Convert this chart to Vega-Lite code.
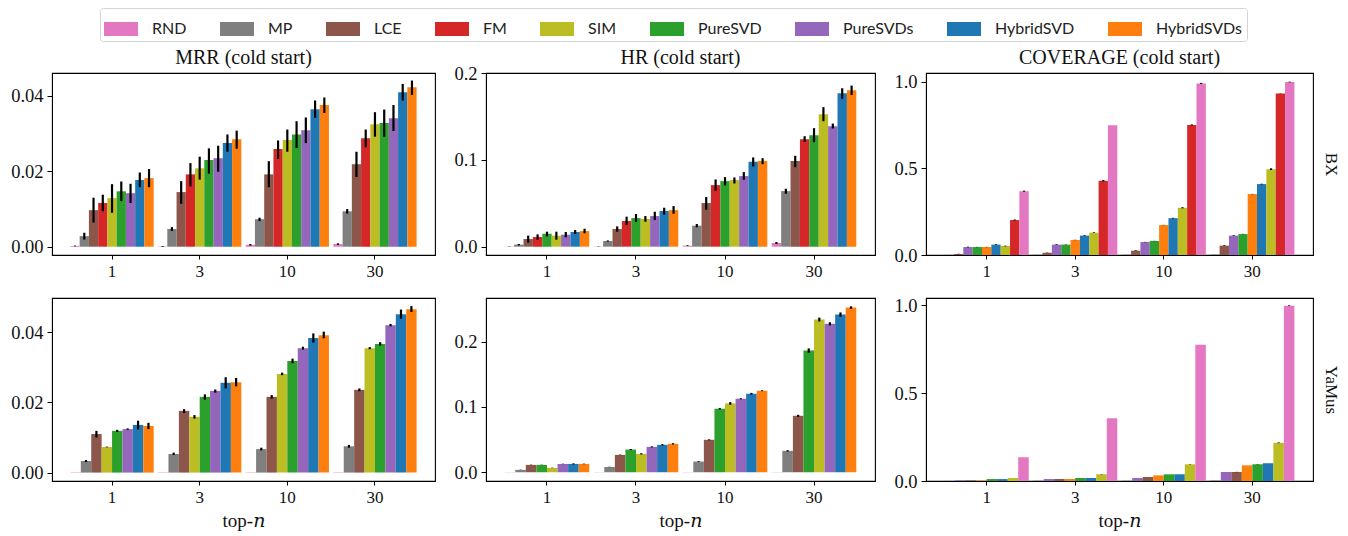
{
  "$schema": "https://vega.github.io/schema/vega-lite/v6.json",
  "padding": {"left": 10, "top": 7, "right": 5, "bottom": 5},
  "background": "white",
  "datasets": {
    "mrr_bx": [
      {"n": 1, "m": "RND", "v": 0.0002, "lo": 0.0001, "hi": 0.0003},
      {"n": 1, "m": "MP", "v": 0.0028, "lo": 0.0019, "hi": 0.0037},
      {"n": 1, "m": "LCE", "v": 0.0097, "lo": 0.0064, "hi": 0.0130},
      {"n": 1, "m": "FM", "v": 0.0116, "lo": 0.0094, "hi": 0.0138},
      {"n": 1, "m": "SIM", "v": 0.0129, "lo": 0.0090, "hi": 0.0166},
      {"n": 1, "m": "PureSVD", "v": 0.0147, "lo": 0.0121, "hi": 0.0173},
      {"n": 1, "m": "PureSVDs", "v": 0.0142, "lo": 0.0116, "hi": 0.0167},
      {"n": 1, "m": "HybridSVD", "v": 0.0177, "lo": 0.0158, "hi": 0.0197},
      {"n": 1, "m": "HybridSVDs", "v": 0.0182, "lo": 0.0158, "hi": 0.0206},
      {"n": 3, "m": "RND", "v": 0.0001, "lo": 0.0000, "hi": 0.0002},
      {"n": 3, "m": "MP", "v": 0.0047, "lo": 0.0042, "hi": 0.0052},
      {"n": 3, "m": "LCE", "v": 0.0145, "lo": 0.0114, "hi": 0.0174},
      {"n": 3, "m": "FM", "v": 0.0192, "lo": 0.0160, "hi": 0.0222},
      {"n": 3, "m": "SIM", "v": 0.0208, "lo": 0.0178, "hi": 0.0239},
      {"n": 3, "m": "PureSVD", "v": 0.0230, "lo": 0.0194, "hi": 0.0261},
      {"n": 3, "m": "PureSVDs", "v": 0.0235, "lo": 0.0199, "hi": 0.0268},
      {"n": 3, "m": "HybridSVD", "v": 0.0275, "lo": 0.0252, "hi": 0.0298},
      {"n": 3, "m": "HybridSVDs", "v": 0.0285, "lo": 0.0260, "hi": 0.0308},
      {"n": 10, "m": "RND", "v": 0.0005, "lo": 0.0003, "hi": 0.0007},
      {"n": 10, "m": "MP", "v": 0.0073, "lo": 0.0068, "hi": 0.0077},
      {"n": 10, "m": "LCE", "v": 0.0192, "lo": 0.0158, "hi": 0.0227},
      {"n": 10, "m": "FM", "v": 0.0259, "lo": 0.0233, "hi": 0.0282},
      {"n": 10, "m": "SIM", "v": 0.0283, "lo": 0.0252, "hi": 0.0311},
      {"n": 10, "m": "PureSVD", "v": 0.0298, "lo": 0.0262, "hi": 0.0333},
      {"n": 10, "m": "PureSVDs", "v": 0.0309, "lo": 0.0275, "hi": 0.0343},
      {"n": 10, "m": "HybridSVD", "v": 0.0365, "lo": 0.0342, "hi": 0.0388},
      {"n": 10, "m": "HybridSVDs", "v": 0.0376, "lo": 0.0355, "hi": 0.0396},
      {"n": 30, "m": "RND", "v": 0.0007, "lo": 0.0005, "hi": 0.0009},
      {"n": 30, "m": "MP", "v": 0.0094, "lo": 0.0088, "hi": 0.0100},
      {"n": 30, "m": "LCE", "v": 0.0219, "lo": 0.0185, "hi": 0.0252},
      {"n": 30, "m": "FM", "v": 0.0288, "lo": 0.0264, "hi": 0.0311},
      {"n": 30, "m": "SIM", "v": 0.0325, "lo": 0.0292, "hi": 0.0357},
      {"n": 30, "m": "PureSVD", "v": 0.0328, "lo": 0.0292, "hi": 0.0364},
      {"n": 30, "m": "PureSVDs", "v": 0.0341, "lo": 0.0307, "hi": 0.0376},
      {"n": 30, "m": "HybridSVD", "v": 0.0410, "lo": 0.0388, "hi": 0.0432},
      {"n": 30, "m": "HybridSVDs", "v": 0.0423, "lo": 0.0403, "hi": 0.0441}
    ],
    "hr_bx": [
      {"n": 1, "m": "RND", "v": 0.0003, "lo": 0.0001, "hi": 0.0005},
      {"n": 1, "m": "MP", "v": 0.0023, "lo": 0.0015, "hi": 0.0031},
      {"n": 1, "m": "LCE", "v": 0.0088, "lo": 0.0046, "hi": 0.0127},
      {"n": 1, "m": "FM", "v": 0.0111, "lo": 0.0081, "hi": 0.0142},
      {"n": 1, "m": "PureSVD", "v": 0.0150, "lo": 0.0119, "hi": 0.0173},
      {"n": 1, "m": "SIM", "v": 0.0127, "lo": 0.0081, "hi": 0.0173},
      {"n": 1, "m": "PureSVDs", "v": 0.0138, "lo": 0.0108, "hi": 0.0169},
      {"n": 1, "m": "HybridSVD", "v": 0.0169, "lo": 0.0146, "hi": 0.0192},
      {"n": 1, "m": "HybridSVDs", "v": 0.0180, "lo": 0.0154, "hi": 0.0207},
      {"n": 3, "m": "RND", "v": 0.0003, "lo": 0.0001, "hi": 0.0005},
      {"n": 3, "m": "MP", "v": 0.0065, "lo": 0.0058, "hi": 0.0072},
      {"n": 3, "m": "LCE", "v": 0.0203, "lo": 0.0173, "hi": 0.0234},
      {"n": 3, "m": "FM", "v": 0.0296, "lo": 0.0250, "hi": 0.0346},
      {"n": 3, "m": "PureSVD", "v": 0.0330, "lo": 0.0284, "hi": 0.0376},
      {"n": 3, "m": "SIM", "v": 0.0319, "lo": 0.0288, "hi": 0.0353},
      {"n": 3, "m": "PureSVDs", "v": 0.0353, "lo": 0.0307, "hi": 0.0403},
      {"n": 3, "m": "HybridSVD", "v": 0.0411, "lo": 0.0369, "hi": 0.0449},
      {"n": 3, "m": "HybridSVDs", "v": 0.0422, "lo": 0.0380, "hi": 0.0468},
      {"n": 10, "m": "RND", "v": 0.0012, "lo": 0.0008, "hi": 0.0016},
      {"n": 10, "m": "MP", "v": 0.0242, "lo": 0.0223, "hi": 0.0261},
      {"n": 10, "m": "LCE", "v": 0.0503, "lo": 0.0426, "hi": 0.0572},
      {"n": 10, "m": "FM", "v": 0.0710, "lo": 0.0645, "hi": 0.0775},
      {"n": 10, "m": "PureSVD", "v": 0.0756, "lo": 0.0706, "hi": 0.0802},
      {"n": 10, "m": "SIM", "v": 0.0768, "lo": 0.0729, "hi": 0.0798},
      {"n": 10, "m": "PureSVDs", "v": 0.0814, "lo": 0.0772, "hi": 0.0860},
      {"n": 10, "m": "HybridSVD", "v": 0.0979, "lo": 0.0925, "hi": 0.1029},
      {"n": 10, "m": "HybridSVDs", "v": 0.0987, "lo": 0.0952, "hi": 0.1021},
      {"n": 30, "m": "RND", "v": 0.0042, "lo": 0.0031, "hi": 0.0054},
      {"n": 30, "m": "MP", "v": 0.0641, "lo": 0.0610, "hi": 0.0668},
      {"n": 30, "m": "LCE", "v": 0.0987, "lo": 0.0917, "hi": 0.1048},
      {"n": 30, "m": "FM", "v": 0.1240, "lo": 0.1209, "hi": 0.1274},
      {"n": 30, "m": "PureSVD", "v": 0.1286, "lo": 0.1205, "hi": 0.1367},
      {"n": 30, "m": "SIM", "v": 0.1528, "lo": 0.1447, "hi": 0.1609},
      {"n": 30, "m": "PureSVDs", "v": 0.1390, "lo": 0.1363, "hi": 0.1420},
      {"n": 30, "m": "HybridSVD", "v": 0.1770, "lo": 0.1705, "hi": 0.1827},
      {"n": 30, "m": "HybridSVDs", "v": 0.1804, "lo": 0.1750, "hi": 0.1858}
    ],
    "cov_bx": [
      {"n": 1, "m": "MP", "v": 0.0008},
      {"n": 1, "m": "LCE", "v": 0.006, "lo": 0.005, "hi": 0.007},
      {"n": 1, "m": "PureSVDs", "v": 0.046, "lo": 0.044, "hi": 0.048},
      {"n": 1, "m": "PureSVD", "v": 0.046, "lo": 0.045, "hi": 0.047},
      {"n": 1, "m": "HybridSVDs", "v": 0.046, "lo": 0.045, "hi": 0.047},
      {"n": 1, "m": "HybridSVD", "v": 0.060, "lo": 0.058, "hi": 0.062},
      {"n": 1, "m": "SIM", "v": 0.052, "lo": 0.050, "hi": 0.054},
      {"n": 1, "m": "FM", "v": 0.202, "lo": 0.199, "hi": 0.205},
      {"n": 1, "m": "RND", "v": 0.369, "lo": 0.366, "hi": 0.372},
      {"n": 3, "m": "MP", "v": 0.0015},
      {"n": 3, "m": "LCE", "v": 0.013, "lo": 0.012, "hi": 0.014},
      {"n": 3, "m": "PureSVDs", "v": 0.060, "lo": 0.058, "hi": 0.062},
      {"n": 3, "m": "PureSVD", "v": 0.060, "lo": 0.059, "hi": 0.061},
      {"n": 3, "m": "HybridSVDs", "v": 0.087, "lo": 0.086, "hi": 0.088},
      {"n": 3, "m": "HybridSVD", "v": 0.112, "lo": 0.110, "hi": 0.114},
      {"n": 3, "m": "SIM", "v": 0.129, "lo": 0.127, "hi": 0.131},
      {"n": 3, "m": "FM", "v": 0.429, "lo": 0.425, "hi": 0.433},
      {"n": 3, "m": "RND", "v": 0.750},
      {"n": 10, "m": "MP", "v": 0.002},
      {"n": 10, "m": "LCE", "v": 0.025, "lo": 0.023, "hi": 0.027},
      {"n": 10, "m": "PureSVDs", "v": 0.075, "lo": 0.074, "hi": 0.076},
      {"n": 10, "m": "PureSVD", "v": 0.081, "lo": 0.080, "hi": 0.082},
      {"n": 10, "m": "HybridSVDs", "v": 0.173, "lo": 0.172, "hi": 0.174},
      {"n": 10, "m": "HybridSVD", "v": 0.213, "lo": 0.211, "hi": 0.215},
      {"n": 10, "m": "SIM", "v": 0.273, "lo": 0.270, "hi": 0.276},
      {"n": 10, "m": "FM", "v": 0.752, "lo": 0.749, "hi": 0.755},
      {"n": 10, "m": "RND", "v": 0.992, "lo": 0.989, "hi": 0.995},
      {"n": 30, "m": "MP", "v": 0.003},
      {"n": 30, "m": "LCE", "v": 0.054, "lo": 0.052, "hi": 0.056},
      {"n": 30, "m": "PureSVDs", "v": 0.112, "lo": 0.110, "hi": 0.114},
      {"n": 30, "m": "PureSVD", "v": 0.121, "lo": 0.120, "hi": 0.122},
      {"n": 30, "m": "HybridSVDs", "v": 0.352, "lo": 0.351, "hi": 0.353},
      {"n": 30, "m": "HybridSVD", "v": 0.410, "lo": 0.408, "hi": 0.412},
      {"n": 30, "m": "SIM", "v": 0.496, "lo": 0.491, "hi": 0.501},
      {"n": 30, "m": "FM", "v": 0.933, "lo": 0.932, "hi": 0.934},
      {"n": 30, "m": "RND", "v": 1.0, "lo": 0.998, "hi": 1.002}
    ],
    "mrr_ya": [
      {"n": 1, "m": "RND", "v": 0.0001},
      {"n": 1, "m": "MP", "v": 0.0033, "lo": 0.0030, "hi": 0.0036},
      {"n": 1, "m": "LCE", "v": 0.0110, "lo": 0.0100, "hi": 0.0119},
      {"n": 1, "m": "SIM", "v": 0.0073, "lo": 0.0072, "hi": 0.0074},
      {"n": 1, "m": "PureSVD", "v": 0.0119, "lo": 0.0116, "hi": 0.0122},
      {"n": 1, "m": "PureSVDs", "v": 0.0124, "lo": 0.0122, "hi": 0.0126},
      {"n": 1, "m": "HybridSVD", "v": 0.0136, "lo": 0.0123, "hi": 0.0148},
      {"n": 1, "m": "HybridSVDs", "v": 0.0133, "lo": 0.0124, "hi": 0.0142},
      {"n": 3, "m": "RND", "v": 0.0001},
      {"n": 3, "m": "MP", "v": 0.0053, "lo": 0.0050, "hi": 0.0057},
      {"n": 3, "m": "LCE", "v": 0.0176, "lo": 0.0170, "hi": 0.0181},
      {"n": 3, "m": "SIM", "v": 0.0159, "lo": 0.0154, "hi": 0.0164},
      {"n": 3, "m": "PureSVD", "v": 0.0216, "lo": 0.0208, "hi": 0.0223},
      {"n": 3, "m": "PureSVDs", "v": 0.0233, "lo": 0.0228, "hi": 0.0237},
      {"n": 3, "m": "HybridSVD", "v": 0.0256, "lo": 0.0240, "hi": 0.0272},
      {"n": 3, "m": "HybridSVDs", "v": 0.0258, "lo": 0.0246, "hi": 0.0270},
      {"n": 10, "m": "RND", "v": 0.0001},
      {"n": 10, "m": "MP", "v": 0.0067, "lo": 0.0063, "hi": 0.0071},
      {"n": 10, "m": "LCE", "v": 0.0216, "lo": 0.0211, "hi": 0.0221},
      {"n": 10, "m": "SIM", "v": 0.0281, "lo": 0.0278, "hi": 0.0285},
      {"n": 10, "m": "PureSVD", "v": 0.0318, "lo": 0.0312, "hi": 0.0325},
      {"n": 10, "m": "PureSVDs", "v": 0.0355, "lo": 0.0351, "hi": 0.0359},
      {"n": 10, "m": "HybridSVD", "v": 0.0384, "lo": 0.0371, "hi": 0.0397},
      {"n": 10, "m": "HybridSVDs", "v": 0.0392, "lo": 0.0383, "hi": 0.0402},
      {"n": 30, "m": "RND", "v": 0.0001},
      {"n": 30, "m": "MP", "v": 0.0075, "lo": 0.0071, "hi": 0.0079},
      {"n": 30, "m": "LCE", "v": 0.0236, "lo": 0.0232, "hi": 0.0240},
      {"n": 30, "m": "SIM", "v": 0.0355, "lo": 0.0352, "hi": 0.0358},
      {"n": 30, "m": "PureSVD", "v": 0.0367, "lo": 0.0362, "hi": 0.0372},
      {"n": 30, "m": "PureSVDs", "v": 0.0420, "lo": 0.0417, "hi": 0.0424},
      {"n": 30, "m": "HybridSVD", "v": 0.0452, "lo": 0.0439, "hi": 0.0465},
      {"n": 30, "m": "HybridSVDs", "v": 0.0466, "lo": 0.0458, "hi": 0.0475}
    ],
    "hr_ya": [
      {"n": 1, "m": "RND", "v": 0.0003},
      {"n": 1, "m": "MP", "v": 0.0036, "lo": 0.0033, "hi": 0.0039},
      {"n": 1, "m": "LCE", "v": 0.0113, "lo": 0.0110, "hi": 0.0116},
      {"n": 1, "m": "PureSVD", "v": 0.0113, "lo": 0.0110, "hi": 0.0116},
      {"n": 1, "m": "SIM", "v": 0.0067, "lo": 0.0064, "hi": 0.0070},
      {"n": 1, "m": "PureSVDs", "v": 0.0128, "lo": 0.0125, "hi": 0.0131},
      {"n": 1, "m": "HybridSVD", "v": 0.0128, "lo": 0.0120, "hi": 0.0136},
      {"n": 1, "m": "HybridSVDs", "v": 0.0128, "lo": 0.0124, "hi": 0.0132},
      {"n": 3, "m": "RND", "v": 0.0003},
      {"n": 3, "m": "MP", "v": 0.0082, "lo": 0.0079, "hi": 0.0085},
      {"n": 3, "m": "LCE", "v": 0.0266, "lo": 0.0262, "hi": 0.0270},
      {"n": 3, "m": "PureSVD", "v": 0.0348, "lo": 0.0340, "hi": 0.0356},
      {"n": 3, "m": "SIM", "v": 0.0282, "lo": 0.0273, "hi": 0.0291},
      {"n": 3, "m": "PureSVDs", "v": 0.0389, "lo": 0.0381, "hi": 0.0397},
      {"n": 3, "m": "HybridSVD", "v": 0.0420, "lo": 0.0410, "hi": 0.0430},
      {"n": 3, "m": "HybridSVDs", "v": 0.0435, "lo": 0.0425, "hi": 0.0445},
      {"n": 10, "m": "RND", "v": 0.0003},
      {"n": 10, "m": "MP", "v": 0.0164, "lo": 0.0158, "hi": 0.0170},
      {"n": 10, "m": "LCE", "v": 0.0497, "lo": 0.0490, "hi": 0.0504},
      {"n": 10, "m": "PureSVD", "v": 0.0973, "lo": 0.0962, "hi": 0.0984},
      {"n": 10, "m": "SIM", "v": 0.1055, "lo": 0.1035, "hi": 0.1075},
      {"n": 10, "m": "PureSVDs", "v": 0.1126, "lo": 0.1118, "hi": 0.1134},
      {"n": 10, "m": "HybridSVD", "v": 0.1203, "lo": 0.1190, "hi": 0.1216},
      {"n": 10, "m": "HybridSVDs", "v": 0.1249, "lo": 0.1242, "hi": 0.1256},
      {"n": 30, "m": "RND", "v": 0.0003},
      {"n": 30, "m": "MP", "v": 0.0328, "lo": 0.0318, "hi": 0.0338},
      {"n": 30, "m": "LCE", "v": 0.0865, "lo": 0.0850, "hi": 0.0880},
      {"n": 30, "m": "PureSVD", "v": 0.1864, "lo": 0.1830, "hi": 0.1898},
      {"n": 30, "m": "SIM", "v": 0.2340, "lo": 0.2310, "hi": 0.2370},
      {"n": 30, "m": "PureSVDs", "v": 0.2274, "lo": 0.2250, "hi": 0.2298},
      {"n": 30, "m": "HybridSVD", "v": 0.2417, "lo": 0.2385, "hi": 0.2449},
      {"n": 30, "m": "HybridSVDs", "v": 0.2524, "lo": 0.2505, "hi": 0.2543}
    ],
    "cov_ya": [
      {"n": 1, "m": "MP", "v": 0.001},
      {"n": 1, "m": "PureSVDs", "v": 0.004},
      {"n": 1, "m": "LCE", "v": 0.004},
      {"n": 1, "m": "HybridSVDs", "v": 0.004},
      {"n": 1, "m": "PureSVD", "v": 0.011},
      {"n": 1, "m": "HybridSVD", "v": 0.011},
      {"n": 1, "m": "SIM", "v": 0.017},
      {"n": 1, "m": "RND", "v": 0.135},
      {"n": 3, "m": "MP", "v": 0.002},
      {"n": 3, "m": "PureSVDs", "v": 0.011},
      {"n": 3, "m": "LCE", "v": 0.011},
      {"n": 3, "m": "HybridSVDs", "v": 0.011},
      {"n": 3, "m": "PureSVD", "v": 0.017},
      {"n": 3, "m": "HybridSVD", "v": 0.017},
      {"n": 3, "m": "SIM", "v": 0.038, "lo": 0.037, "hi": 0.039},
      {"n": 3, "m": "RND", "v": 0.357},
      {"n": 10, "m": "MP", "v": 0.002},
      {"n": 10, "m": "PureSVDs", "v": 0.017},
      {"n": 10, "m": "LCE", "v": 0.023},
      {"n": 10, "m": "HybridSVDs", "v": 0.032},
      {"n": 10, "m": "PureSVD", "v": 0.038},
      {"n": 10, "m": "HybridSVD", "v": 0.038},
      {"n": 10, "m": "SIM", "v": 0.095, "lo": 0.094, "hi": 0.096},
      {"n": 10, "m": "RND", "v": 0.774},
      {"n": 30, "m": "MP", "v": 0.003},
      {"n": 30, "m": "PureSVDs", "v": 0.051},
      {"n": 30, "m": "LCE", "v": 0.051, "lo": 0.050, "hi": 0.052},
      {"n": 30, "m": "HybridSVDs", "v": 0.089},
      {"n": 30, "m": "PureSVD", "v": 0.095, "lo": 0.094, "hi": 0.096},
      {"n": 30, "m": "HybridSVD", "v": 0.101},
      {"n": 30, "m": "SIM", "v": 0.217, "lo": 0.215, "hi": 0.219},
      {"n": 30, "m": "RND", "v": 0.996, "lo": 0.994, "hi": 0.998}
    ]
  },
  "config": {
    "font": "Liberation Serif",
    "view": {"stroke": "black", "strokeWidth": 1.1},
    "axis": {
      "labelFont": "Liberation Serif", "labelFontSize": 18.5, "labelColor": "#111",
      "tickColor": "black", "domainColor": "black", "grid": false,
      "tickSize": 5, "labelPadding": 4,
      "titleFont": "Liberation Serif, DejaVu Serif", "titleFontSize": 19, "titleFontWeight": "normal", "titleColor": "#111"
    },
    "axisX": {"labelAngle": 0, "labelFontSize": 17, "tickSize": 4, "titlePadding": 6},
    "title": {"font": "Liberation Serif", "fontSize": 20, "fontWeight": "normal", "color": "#111", "offset": 5},
    "legend": {
      "labelFont": "Lato", "labelFontSize": 16, "labelColor": "#222",
      "symbolType": "M-1,-0.41H1V0.41H-1Z", "symbolSize": 1156, "symbolStrokeWidth": 0,
      "labelOffset": 14, "columnPadding": 33, "padding": 4,
      "strokeColor": "#d4d4d4", "cornerRadius": 3, "fillColor": "white"
    }
  },
  "columns": 3,
  "spacing": {"row": 43, "column": 51},
  "bounds": "flush",
  "resolve": {"scale": {"x": "independent", "xOffset": "independent", "y": "independent"}},
  "concat": [
    {
      "width": 383, "height": 182,
      "title": "MRR (cold start)",
      "data": {"name": "mrr_bx"},
      "layer": [
        {"mark": {"type": "bar"},
         "encoding": {
           "x": {"field": "n", "type": "ordinal", "scale": {"domain": [1, 3, 10, 30], "paddingInner": 0.05, "paddingOuter": 0.21}, "axis": {"title": null}},
           "xOffset": {"field": "m", "scale": {"domain": ["RND", "MP", "LCE", "FM", "SIM", "PureSVD", "PureSVDs", "HybridSVD", "HybridSVDs"], "paddingInner": 0, "paddingOuter": 0}},
           "y": {"field": "v", "type": "quantitative", "scale": {"domain": [-0.0022, 0.0461], "nice": false, "zero": false}, "axis": {"title": null, "values": [0, 0.02, 0.04], "format": ".2f"}},
           "color": {"field": "m", "type": "nominal", "scale": {"domain": ["RND", "MP", "LCE", "FM", "SIM", "PureSVD", "PureSVDs", "HybridSVD", "HybridSVDs"], "range": ["#e377c2", "#7f7f7f", "#8c564b", "#d62728", "#bcbd22", "#2ca02c", "#9467bd", "#1f77b4", "#ff7f0e"]}, "legend": {"title": null, "orient": "none", "legendX": 48, "legendY": -65, "direction": "horizontal", "columns": 9}}
         }},
        {"transform": [{"filter": "isValid(datum.lo)"}],
         "mark": {"type": "rule", "color": "black", "strokeWidth": 2.2},
         "encoding": {
           "x": {"field": "n", "type": "ordinal", "title": null},
           "xOffset": {"field": "m"},
           "y": {"field": "lo", "type": "quantitative", "title": null},
           "y2": {"field": "hi"}
         }}
      ]
    },
    {
      "width": 389, "height": 182,
      "title": {"text": "HR (cold start)", "offset": -4},
      "data": {"name": "hr_bx"},
      "layer": [
        {"mark": {"type": "bar"},
         "encoding": {
           "x": {"field": "n", "type": "ordinal", "scale": {"domain": [1, 3, 10, 30], "paddingInner": 0.05, "paddingOuter": 0.21}, "axis": {"title": null}},
           "xOffset": {"field": "m", "scale": {"domain": ["RND", "MP", "LCE", "FM", "PureSVD", "SIM", "PureSVDs", "HybridSVD", "HybridSVDs"], "paddingInner": 0, "paddingOuter": 0}},
           "y": {"field": "v", "type": "quantitative", "scale": {"domain": [-0.0096, 0.2003], "nice": false, "zero": false}, "axis": {"title": null, "values": [0, 0.1, 0.2], "format": ".1f"}},
           "color": {"field": "m", "type": "nominal", "scale": {"domain": ["RND", "MP", "LCE", "FM", "SIM", "PureSVD", "PureSVDs", "HybridSVD", "HybridSVDs"], "range": ["#e377c2", "#7f7f7f", "#8c564b", "#d62728", "#bcbd22", "#2ca02c", "#9467bd", "#1f77b4", "#ff7f0e"]}}
         }},
        {"transform": [{"filter": "isValid(datum.lo)"}],
         "mark": {"type": "rule", "color": "black", "strokeWidth": 2.2},
         "encoding": {
           "x": {"field": "n", "type": "ordinal", "title": null},
           "xOffset": {"field": "m"},
           "y": {"field": "lo", "type": "quantitative", "title": null},
           "y2": {"field": "hi"}
         }}
      ]
    },
    {
      "width": 387, "height": 182,
      "title": "COVERAGE (cold start)",
      "data": {"name": "cov_bx"},
      "resolve": {"axis": {"y": "independent"}},
      "layer": [
        {"mark": {"type": "bar"},
         "encoding": {
           "x": {"field": "n", "type": "ordinal", "scale": {"domain": [1, 3, 10, 30], "paddingInner": 0.05, "paddingOuter": 0.21}, "axis": {"title": null}},
           "xOffset": {"field": "m", "scale": {"domain": ["MP", "LCE", "PureSVDs", "PureSVD", "HybridSVDs", "HybridSVD", "SIM", "FM", "RND"], "paddingInner": 0, "paddingOuter": 0}},
           "y": {"field": "v", "type": "quantitative", "scale": {"domain": [0, 1.052], "nice": false, "zero": false}, "axis": {"title": null, "orient": "left", "values": [0, 0.5, 1.0], "format": ".1f"}},
           "color": {"field": "m", "type": "nominal", "scale": {"domain": ["RND", "MP", "LCE", "FM", "SIM", "PureSVD", "PureSVDs", "HybridSVD", "HybridSVDs"], "range": ["#e377c2", "#7f7f7f", "#8c564b", "#d62728", "#bcbd22", "#2ca02c", "#9467bd", "#1f77b4", "#ff7f0e"]}}
         }},
        {"transform": [{"filter": "isValid(datum.lo)"}],
         "mark": {"type": "rule", "color": "black", "strokeWidth": 2.2},
         "encoding": {
           "x": {"field": "n", "type": "ordinal", "title": null},
           "xOffset": {"field": "m"},
           "y": {"field": "lo", "type": "quantitative", "axis": {"orient": "right", "title": "BX", "labels": false, "ticks": false, "domain": false, "titlePadding": 8, "titleFontSize": 17}},
           "y2": {"field": "hi"}
         }}
      ]
    },
    {
      "width": 383, "height": 183,
      "data": {"name": "mrr_ya"},
      "layer": [
        {"mark": {"type": "bar"},
         "encoding": {
           "x": {"field": "n", "type": "ordinal", "scale": {"domain": [1, 3, 10, 30], "paddingInner": 0.05, "paddingOuter": 0.21}, "axis": {"title": "top-𝑛"}},
           "xOffset": {"field": "m", "scale": {"domain": ["RND", "MP", "LCE", "SIM", "PureSVD", "PureSVDs", "HybridSVD", "HybridSVDs"], "paddingInner": 0, "paddingOuter": 0}},
           "y": {"field": "v", "type": "quantitative", "scale": {"domain": [-0.0024, 0.0498], "nice": false, "zero": false}, "axis": {"title": null, "values": [0, 0.02, 0.04], "format": ".2f"}},
           "color": {"field": "m", "type": "nominal", "scale": {"domain": ["RND", "MP", "LCE", "FM", "SIM", "PureSVD", "PureSVDs", "HybridSVD", "HybridSVDs"], "range": ["#e377c2", "#7f7f7f", "#8c564b", "#d62728", "#bcbd22", "#2ca02c", "#9467bd", "#1f77b4", "#ff7f0e"]}}
         }},
        {"transform": [{"filter": "isValid(datum.lo)"}],
         "mark": {"type": "rule", "color": "black", "strokeWidth": 2.2},
         "encoding": {
           "x": {"field": "n", "type": "ordinal"},
           "xOffset": {"field": "m"},
           "y": {"field": "lo", "type": "quantitative", "title": null},
           "y2": {"field": "hi"}
         }}
      ]
    },
    {
      "width": 389, "height": 183,
      "data": {"name": "hr_ya"},
      "layer": [
        {"mark": {"type": "bar"},
         "encoding": {
           "x": {"field": "n", "type": "ordinal", "scale": {"domain": [1, 3, 10, 30], "paddingInner": 0.05, "paddingOuter": 0.21}, "axis": {"title": "top-𝑛"}},
           "xOffset": {"field": "m", "scale": {"domain": ["RND", "MP", "LCE", "PureSVD", "SIM", "PureSVDs", "HybridSVD", "HybridSVDs"], "paddingInner": 0, "paddingOuter": 0}},
           "y": {"field": "v", "type": "quantitative", "scale": {"domain": [-0.0134, 0.267], "nice": false, "zero": false}, "axis": {"title": null, "values": [0, 0.1, 0.2], "format": ".1f"}},
           "color": {"field": "m", "type": "nominal", "scale": {"domain": ["RND", "MP", "LCE", "FM", "SIM", "PureSVD", "PureSVDs", "HybridSVD", "HybridSVDs"], "range": ["#e377c2", "#7f7f7f", "#8c564b", "#d62728", "#bcbd22", "#2ca02c", "#9467bd", "#1f77b4", "#ff7f0e"]}}
         }},
        {"transform": [{"filter": "isValid(datum.lo)"}],
         "mark": {"type": "rule", "color": "black", "strokeWidth": 2.2},
         "encoding": {
           "x": {"field": "n", "type": "ordinal"},
           "xOffset": {"field": "m"},
           "y": {"field": "lo", "type": "quantitative", "title": null},
           "y2": {"field": "hi"}
         }}
      ]
    },
    {
      "width": 387, "height": 183,
      "data": {"name": "cov_ya"},
      "resolve": {"axis": {"y": "independent"}},
      "layer": [
        {"mark": {"type": "bar"},
         "encoding": {
           "x": {"field": "n", "type": "ordinal", "scale": {"domain": [1, 3, 10, 30], "paddingInner": 0.05, "paddingOuter": 0.21}, "axis": {"title": "top-𝑛"}},
           "xOffset": {"field": "m", "scale": {"domain": ["MP", "PureSVDs", "LCE", "HybridSVDs", "PureSVD", "HybridSVD", "SIM", "RND"], "paddingInner": 0, "paddingOuter": 0}},
           "y": {"field": "v", "type": "quantitative", "scale": {"domain": [0, 1.04], "nice": false, "zero": false}, "axis": {"title": null, "orient": "left", "values": [0, 0.5, 1.0], "format": ".1f"}},
           "color": {"field": "m", "type": "nominal", "scale": {"domain": ["RND", "MP", "LCE", "FM", "SIM", "PureSVD", "PureSVDs", "HybridSVD", "HybridSVDs"], "range": ["#e377c2", "#7f7f7f", "#8c564b", "#d62728", "#bcbd22", "#2ca02c", "#9467bd", "#1f77b4", "#ff7f0e"]}}
         }},
        {"transform": [{"filter": "isValid(datum.lo)"}],
         "mark": {"type": "rule", "color": "black", "strokeWidth": 2.2},
         "encoding": {
           "x": {"field": "n", "type": "ordinal"},
           "xOffset": {"field": "m"},
           "y": {"field": "lo", "type": "quantitative", "axis": {"orient": "right", "title": "YaMus", "labels": false, "ticks": false, "domain": false, "titlePadding": 8, "titleFontSize": 17}},
           "y2": {"field": "hi"}
         }}
      ]
    }
  ]
}
